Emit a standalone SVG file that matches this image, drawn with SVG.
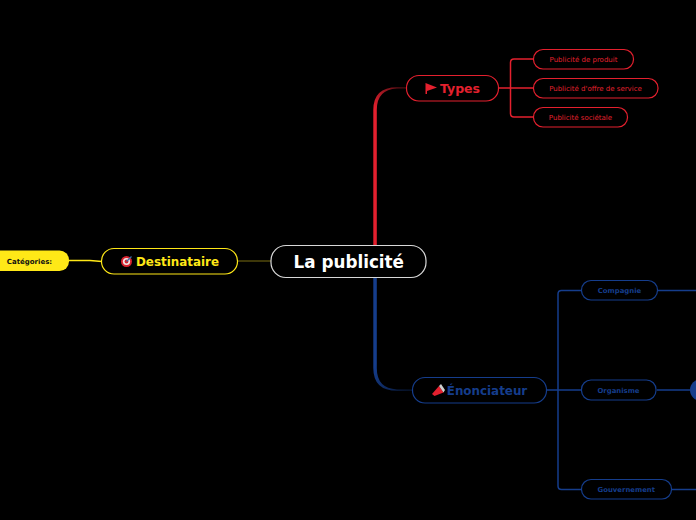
<svg xmlns="http://www.w3.org/2000/svg" width="696" height="520" viewBox="0 0 696 520">
<style>
text{font-family:"DejaVu Sans","Liberation Sans",sans-serif;text-anchor:middle}
.b{font-weight:700}
.box{fill:#000;stroke-width:1.2}
.r{stroke:#e4202e}.u{stroke:#153d8c}.y{stroke:#ffe817}
.tr{fill:#e4202e}.tu{fill:#153d8c}.ty{fill:#ffe817}
.l{fill:none;stroke-width:1.5}
</style>
<defs>
<linearGradient id="gr" gradientUnits="userSpaceOnUse" x1="375" y1="110" x2="408" y2="88"><stop offset="0" stop-color="#e4202e"/><stop offset="1" stop-color="#3a0a0e"/></linearGradient>
<linearGradient id="gu" gradientUnits="userSpaceOnUse" x1="375" y1="365" x2="412" y2="390"><stop offset="0" stop-color="#153d8c"/><stop offset="1" stop-color="#07142e"/></linearGradient>
</defs>
<rect width="696" height="520" fill="#000"/>
<g id="connectors">
<path d="M373.300 246V110Q373.300 87.200 397 87.200H407V88.600H397Q376.800 89.500 376.800 110V246Z" fill="url(#gr)"/>
<path d="M373.300 277V368Q373.300 390.800 397 390.800H413V389.400H397Q376.800 388.500 376.800 368V277Z" fill="url(#gu)"/>
<path d="M238 261H271" fill="none" stroke="#7a6f12" stroke-width="1"/>
<path d="M69 260.500H90L102 261.500" class="l y"/>
<path d="M499 88H533M533 59H514Q510.500 59 510.500 62.500V113.500Q510.500 117 514 117H533" class="l r"/>
<path d="M547 390H581M581 290.500H561.500Q558 290.500 558 294V486Q558 489.500 561.500 489.500H581" class="l u"/>
<path d="M657 290.500H696M657 390H690M671 489.500H696" class="l u"/>
</g>
<g id="node-center"><rect class="box" x="271" y="245.500" width="155" height="32" rx="15" stroke="#d8d8d8"/><text class="b" x="348.800" y="267.700" font-size="16.800" fill="#fff">La publicité</text></g>
<g id="node-types"><rect class="box r" x="406.500" y="75.500" width="92" height="25.500" rx="12.500"/>
<path d="M425.500 83L437 87.500L427 91V94H425.500Z" fill="#e4202e"/><text class="b tr" x="460" y="93" font-size="12.500">Types</text></g>
<g id="node-produit"><rect class="box r" x="533.500" y="49.500" width="100" height="19.500" rx="9.500"/><text class="tr" x="583.500" y="61.800" font-size="7">Publicité de produit</text></g>
<g id="node-service"><rect class="box r" x="533.500" y="78.500" width="124.500" height="19.500" rx="9.500"/><text class="tr" x="595.500" y="90.800" font-size="7">Publicité d'offre de service</text></g>
<g id="node-societale"><rect class="box r" x="533.500" y="107.500" width="94" height="19.500" rx="9.500"/><text class="tr" x="580.500" y="119.800" font-size="7">Publicité sociétale</text></g>
<g id="node-destinataire"><rect class="box y" x="101.500" y="248.500" width="136" height="25.500" rx="12.500"/>
<circle cx="126.500" cy="261.500" r="5.500" fill="#d8232f"/><circle cx="126.500" cy="261.500" r="3.600" fill="#f3e6e6"/><circle cx="126.500" cy="261.500" r="1.900" fill="#d8232f"/><path d="M126.500 261.500L131.500 256.500" stroke="#3a6ea8" stroke-width="1.200"/>
<text class="b ty" x="177.500" y="266" font-size="11.900">Destinataire</text></g>
<g id="node-categories"><rect x="-12" y="250.500" width="81" height="20.500" rx="9.500" fill="#ffe817"/><text class="b" x="29.500" y="263.500" font-size="7" fill="#111">Catégories:</text></g>
<g id="node-enonciateur"><rect class="box u" x="412.500" y="377.500" width="134" height="25.500" rx="12.500"/>
<path d="M432 394L439 386L443.500 392.500L434.500 396Z" fill="#e4202e"/><path d="M439 386L441 384L445 390L443.500 392.500Z" fill="#cfcfcf"/>
<text class="b tu" x="487" y="395" font-size="11.900">Énonciateur</text></g>
<g id="node-compagnie"><rect class="box u" x="581.500" y="280.500" width="76" height="19.500" rx="9.500"/><text class="b tu" x="619.500" y="293" font-size="6.900">Compagnie</text></g>
<g id="node-organisme"><rect class="box u" x="581.500" y="380" width="74.500" height="20" rx="9.500"/><text class="b tu" x="618.500" y="393" font-size="6.900">Organisme</text></g>
<g id="node-gouvernement"><rect class="box u" x="581.500" y="479.500" width="90" height="19.500" rx="9.500"/><text class="b tu" x="626.300" y="492.300" font-size="6.900">Gouvernement</text></g>
<g id="node-organisme-child"><rect x="690" y="379" width="30" height="22" rx="11" fill="#153d8c"/></g>
</svg>
